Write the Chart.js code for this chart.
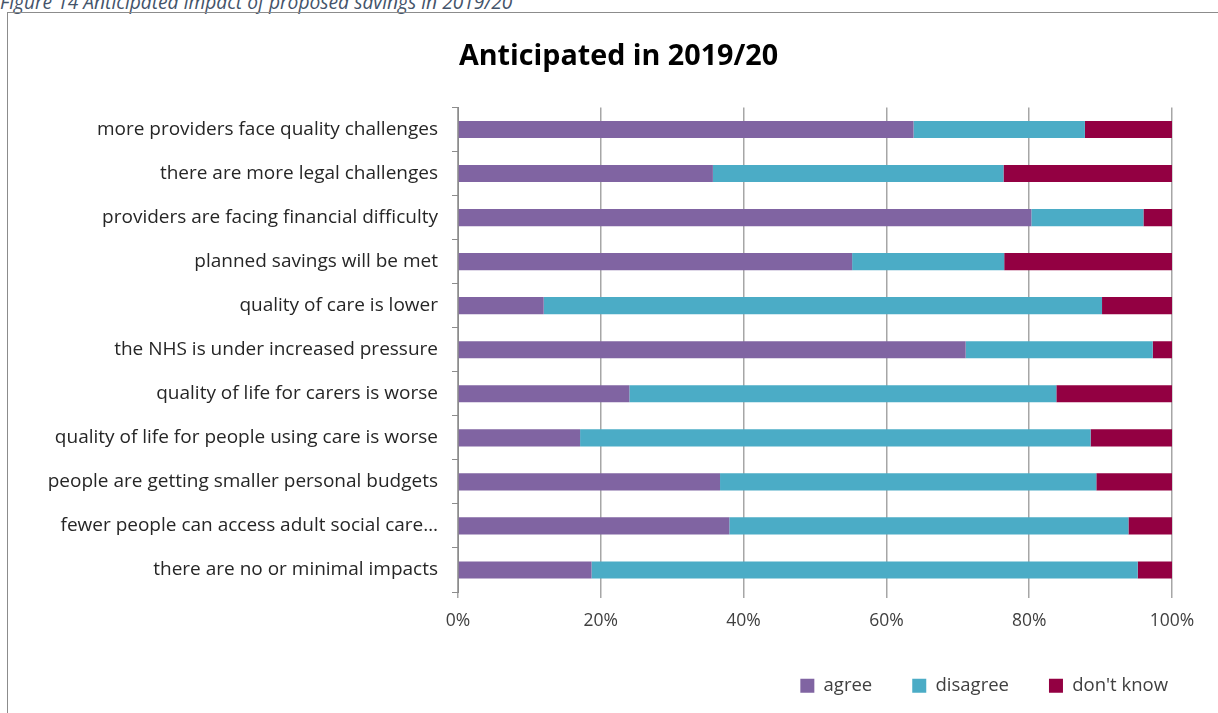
<!DOCTYPE html>
<html>
<head>
<meta charset="utf-8">
<script src="https://cdn.jsdelivr.net/npm/chart.js@4"></script>
<style>
  html, body { margin: 0; padding: 0; background: #fff; overflow: hidden; }
  body { width: 1218px; height: 713px; position: relative; }
  .caption {
    position: absolute; left: 0px; top: -12px;
    font-family: "Open Sans", sans-serif; font-style: italic; font-size: 19.2px;
    color: #44546a; white-space: nowrap;
  }
  .frame {
    position: absolute; left: 7px; top: 12px; width: 1300px; height: 800px;
    border: 1px solid #8c8c8c;
  }
  .box { position: absolute; left: 8px; top: 13px; width: 1210px; height: 700px; }
</style>
</head>
<body>
<div class="caption">Figure 14 Anticipated impact of proposed savings in 2019/20</div>
<div class="frame"></div>
<div class="box"><canvas id="bars"></canvas></div>
<script>
/* Anticipated in 2019/20 - stacked 100% bars */
const categories = [
  'more providers face quality challenges',
  'there are more legal challenges',
  'providers are facing financial difficulty',
  'planned savings will be met',
  'quality of care is lower',
  'the NHS is under increased pressure',
  'quality of life for carers is worse',
  'quality of life for people using care is worse',
  'people are getting smaller personal budgets',
  'fewer people can access adult social care\u2026',
  'there are no or minimal impacts'
];
const agree = [63.8, 35.7, 80.3, 55.2, 12.0, 71.1, 24.0, 17.1, 36.7, 38.0, 18.7];
const disagree = [24.0, 40.7, 15.7, 21.3, 78.2, 26.2, 59.8, 71.5, 52.7, 55.9, 76.5];
const dontKnow = [12.2, 23.6, 4.0, 23.5, 9.8, 2.7, 16.2, 11.4, 10.6, 6.1, 4.8];
const xTicks = [0, 20, 40, 60, 80, 100];

Chart.defaults.font.family = '"Open Sans", sans-serif';
Chart.defaults.color = '#404040';

const bars = document.getElementById('bars');

new Chart(bars, {
  type: 'bar',
  data: {
    labels: categories,
    datasets: [
      { label: 'agree', data: agree, backgroundColor: '#8064a2' },
      { label: 'disagree', data: disagree, backgroundColor: '#4bacc6' },
      { label: "don't know", data: dontKnow, backgroundColor: '#930042' }
    ]
  },
  options: {
    indexAxis: 'y',
    responsive: true,
    maintainAspectRatio: false,
    animation: false,
    datasets: {
      bar: { categoryPercentage: 1, barPercentage: 0.39, borderWidth: 0 }
    },
    layout: { padding: { top: 0, right: 10, bottom: 8, left: 21 } },
    plugins: {
      title: {
        display: true,
        text: 'Anticipated in 2019/20',
        color: '#000',
        font: { size: 28.7, weight: 'bold' },
        padding: { top: 27, bottom: 33 }
      },
      legend: {
        position: 'bottom',
        align: 'end',
        labels: {
          boxWidth: 14, boxHeight: 14, padding: 40,
          font: { size: 18.5 }, color: '#404040'
        }
      },
      tooltip: { enabled: false }
    },
    scales: {
      x: {
        stacked: true,
        min: 0, max: 100,
        afterBuildTicks: (s) => { s.ticks = xTicks.map(v => ({ value: v })); },
        ticks: { callback: (v) => v + '%', font: { size: 17.5 }, padding: 13 },
        grid: { color: '#a6a6a6', lineWidth: 1.5, tickLength: 6 },
        border: { display: false },
        afterFit: (s) => { s.height = 44.5; }
      },
      y: {
        stacked: true,
        ticks: { font: { size: 19 }, padding: 14, color: '#262626' },
        grid: { drawOnChartArea: false, offset: true, tickLength: 6, color: '#8c8c8c' },
        border: { display: true, color: '#8c8c8c' },
        afterFit: (s) => { s.width = 429; }
      },
      gapRight: {
        position: 'right',
        type: 'linear',
        ticks: { display: false },
        grid: { display: false },
        border: { display: false },
        afterFit: (s) => { s.width = 36; }
      }
    }
  }
});
</script>
</body>
</html>
